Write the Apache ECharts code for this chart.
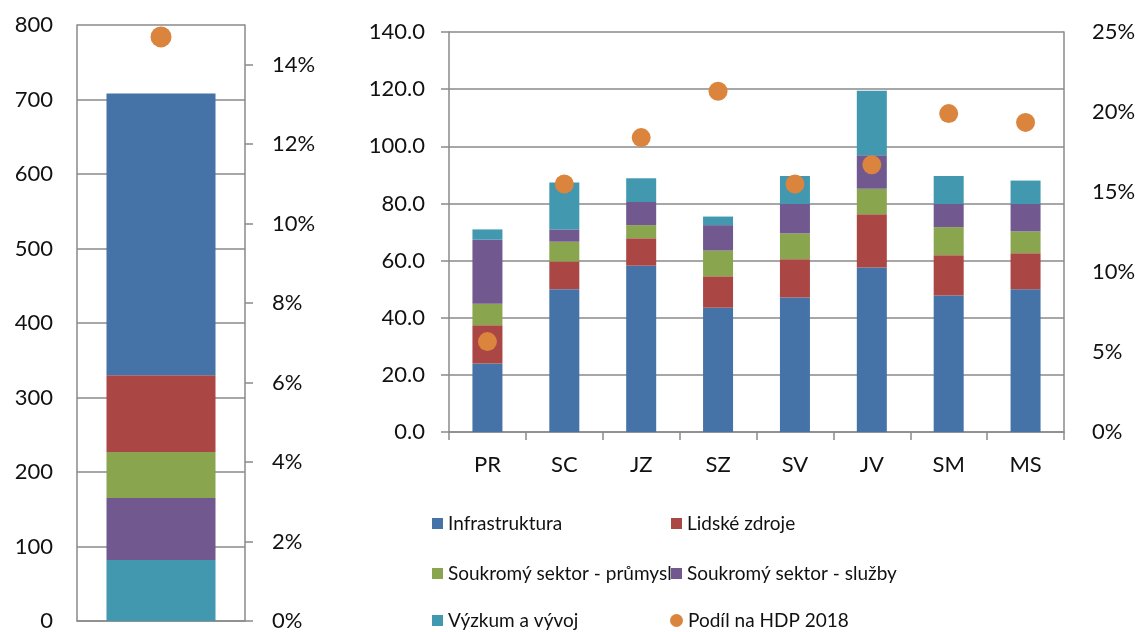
<!DOCTYPE html>
<html>
<head>
  <meta charset="utf-8">
  <style>
    html, body { width: 100%; height: 100%; margin: 0; padding: 0; overflow: hidden; background: #fff; }
    #container { width: 1142px; height: 632px; }
  </style>
</head>
<body>
  <div id="container"></div>
  <script src="https://cdn.jsdelivr.net/npm/echarts@6/dist/echarts.min.js"></script>
  <script>
    // kraje
    var regions = ['PR', 'SC', 'JZ', 'SZ', 'SV', 'JV', 'SM', 'MS'];

    var seriesNames = ['Infrastruktura', 'Lidské zdroje', 'Soukromý sektor - průmysl',
      'Soukromý sektor - služby', 'Výzkum a vývoj'];
    var hdpName = 'Podíl na HDP 2018';

    // hodnoty po krajích
    var infra = [24.0, 50.0, 58.2, 43.5, 47.1, 57.6, 47.8, 50.0];
    var lidske = [13.4, 9.7, 9.6, 11.0, 13.4, 18.6, 14.1, 12.6];
    var prumysl = [7.5, 6.9, 4.6, 9.0, 9.0, 8.9, 9.8, 7.6];
    var sluzby = [22.4, 4.3, 8.1, 8.9, 10.3, 11.8, 8.1, 9.6];
    var vyzkum = [3.6, 16.4, 8.3, 3.0, 9.8, 22.5, 9.8, 8.2];
    var hdp = [5.65, 15.5, 18.4, 21.3, 15.5, 16.7, 19.9, 19.35];

    // celkem (levý graf)
    var totalCats = ['CZ'];
    var totalValues = [378, 103, 62, 83, 82]; // ve stejném pořadí jako seriesNames
    var totalHdp = [14.7];

    var colors = ['#4572A7', '#AA4643', '#89A54E', '#71588F', '#4198AF'];
    var dotColor = '#DB843D';
    var gridColor = '#8a8a8a';
    var font = 'Lato, "Open Sans", sans-serif';
    var txt = { color: '#111', fontSize: 22, fontFamily: font };
    var legendTxt = { color: '#111', fontSize: 19, fontFamily: font };

    var chart = echarts.init(document.getElementById('container'));

    var regionData = [infra, lidske, prumysl, sluzby, vyzkum];
    var series = [];

    // levý graf - pořadí odspodu je obrácené
    for (var i = seriesNames.length - 1; i >= 0; i--) {
      series.push({
        name: seriesNames[i], type: 'bar', stack: 'total',
        xAxisIndex: 0, yAxisIndex: 0, barWidth: 109,
        itemStyle: { color: colors[i] },
        data: [totalValues[i]]
      });
    }
    series.push({
      name: hdpName, type: 'scatter', xAxisIndex: 0, yAxisIndex: 1,
      symbolSize: 21, itemStyle: { color: dotColor, opacity: 1 },
      data: totalHdp
    });

    // pravý graf
    for (var j = 0; j < seriesNames.length; j++) {
      series.push({
        name: seriesNames[j], type: 'bar', stack: 'regions',
        xAxisIndex: 1, yAxisIndex: 2, barWidth: 30,
        itemStyle: { color: colors[j] },
        data: regionData[j]
      });
    }
    series.push({
      name: hdpName, type: 'scatter', xAxisIndex: 1, yAxisIndex: 3,
      symbolSize: 19, itemStyle: { color: dotColor, opacity: 1 },
      data: hdp
    });

    var axisLine = { show: true, lineStyle: { color: gridColor, width: 1.5 } };
    var splitLine = { show: true, lineStyle: { color: gridColor, width: 1.5 } };
    var tick = { show: true, length: 8, lineStyle: { color: gridColor, width: 1.5 } };

    // legenda: 2 sloupce x 3 řádky, každá položka zvlášť
    var legendOrder = [seriesNames[0], seriesNames[1], seriesNames[2], seriesNames[3], seriesNames[4], hdpName];
    var legendCols = [427, 666];
    var legendRows = [509, 559, 606];
    var legends = legendOrder.map(function (name, k) {
      var isDot = name === hdpName;
      return {
        left: legendCols[k % 2] - (isDot ? 1 : 0), top: legendRows[Math.floor(k / 2)],
        itemWidth: isDot ? 13 : 11, itemHeight: isDot ? 13 : 11, itemGap: 0,
        textStyle: legendTxt,
        data: [{ name: name, icon: isDot ? 'circle' : 'rect' }]
      };
    });

    chart.setOption({
      animation: false,
      grid: [
        { left: 77, top: 25, width: 168, height: 600 },
        { left: 449, top: 32, width: 615, height: 400 }
      ],
      legend: legends,
      xAxis: [
        {
          type: 'category', gridIndex: 0, data: totalCats,
          axisLine: axisLine, axisTick: { show: false }, axisLabel: { show: false }
        },
        {
          type: 'category', gridIndex: 1, data: regions,
          axisLine: axisLine, axisTick: tick,
          axisLabel: Object.assign({ margin: 22 }, txt)
        }
      ],
      yAxis: [
        {
          type: 'value', gridIndex: 0, min: 0, max: 800, interval: 100,
          axisLine: axisLine, axisTick: { show: false }, splitLine: splitLine,
          axisLabel: Object.assign({ margin: 24 }, txt)
        },
        {
          type: 'value', gridIndex: 0, min: 0, max: 15, interval: 2, position: 'right',
          axisLine: axisLine, axisTick: tick, splitLine: { show: false },
          axisLabel: Object.assign({
            margin: 27, showMaxLabel: false,
            formatter: function (v) { return v + '%'; }
          }, txt)
        },
        {
          type: 'value', gridIndex: 1, min: 0, max: 140, interval: 20,
          axisLine: axisLine, axisTick: tick, splitLine: splitLine,
          axisLabel: Object.assign({
            margin: 24,
            formatter: function (v) { return v.toFixed(1); }
          }, txt)
        },
        {
          type: 'value', gridIndex: 1, min: 0, max: 25, interval: 5, position: 'right',
          axisLine: axisLine, axisTick: { show: false }, splitLine: { show: false },
          axisLabel: Object.assign({
            margin: 28,
            formatter: function (v) { return v + '%'; }
          }, txt)
        }
      ],
      series: series
    });
  </script>
</body>
</html>
